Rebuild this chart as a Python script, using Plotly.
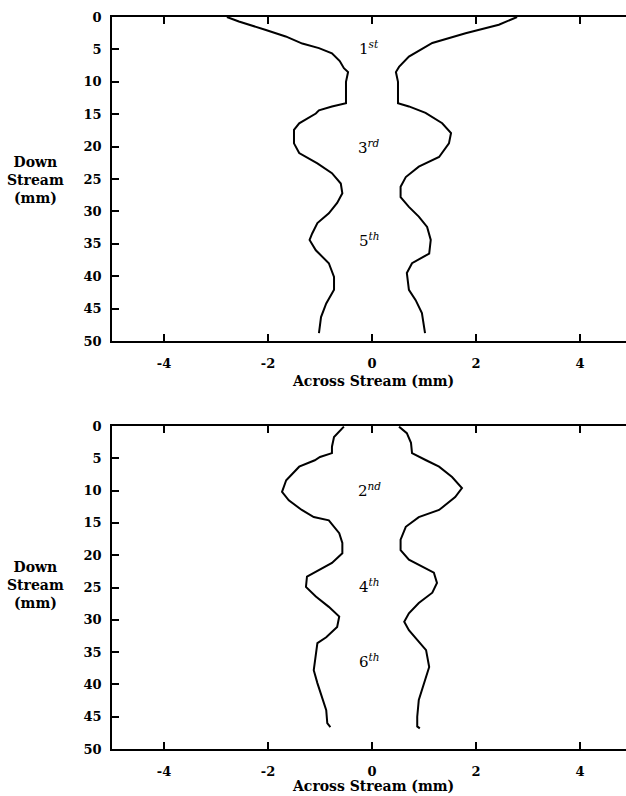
import plotly.graph_objects as go

# ---- data (mm) ----
top_left_y = [0, 0.7, 2.0, 3.0, 4.1, 4.8, 5.6, 6.8, 7.9, 8.5, 10, 12, 13.3, 13.8, 14.4, 14.9, 16.4, 17.4,
              19.5, 21.0, 22.6, 24.1, 25.7, 27.2, 28.7, 30.3, 31.8, 33.4, 34.4, 36.0, 38.0, 40.1, 42.1,
              44.2, 46.3, 48.8]
top_left_x = [-2.79, -2.56, -2.04, -1.66, -1.34, -1.02, -0.77, -0.62, -0.54, -0.46, -0.5, -0.5, -0.5,
              -0.77, -1.02, -1.08, -1.4, -1.5, -1.5, -1.4, -1.05, -0.77, -0.6, -0.57, -0.67, -0.83,
              -1.05, -1.15, -1.2, -1.08, -0.83, -0.73, -0.73, -0.88, -0.98, -1.02]

top_right_y = [0, 1.2, 2.5, 4.0, 6.1, 7.7, 8.5, 10, 12, 13.3, 13.8, 14.8, 16.4, 17.9, 19.5, 21.6, 23.1,
               24.7, 26.2, 27.8, 29.3, 30.8, 32.4, 34.4, 36.5, 38.0, 39.5, 42.1, 43.7, 45.7, 48.8]
top_right_x = [2.79, 2.44, 1.8, 1.16, 0.71, 0.52, 0.46, 0.5, 0.5, 0.5, 0.71, 1.03, 1.35, 1.52, 1.48,
               1.29, 0.9, 0.65, 0.55, 0.55, 0.71, 0.9, 1.06, 1.13, 1.1, 0.77, 0.67, 0.71, 0.84, 0.96, 1.02]

bot_left_y = [0.1, 1.7, 3.2, 4.2, 4.8, 5.3, 6.3, 8.4, 10.2, 11.5, 13.0, 14.1, 14.6, 16.6, 18.1, 19.7,
              21.2, 22.3, 23.3, 24.9, 26.4, 28.0, 29.5, 31.1, 32.7, 33.6, 35.8, 37.8, 39.8, 41.9, 44.0,
              46.0, 46.6]
bot_left_x = [-0.54, -0.73, -0.77, -0.77, -1.0, -1.1, -1.4, -1.65, -1.73, -1.6, -1.35, -1.12, -0.83,
              -0.63, -0.57, -0.57, -0.77, -1.02, -1.25, -1.27, -1.08, -0.83, -0.63, -0.67, -0.88,
              -1.05, -1.08, -1.12, -1.05, -0.96, -0.88, -0.86, -0.80]

bot_right_y = [0.1, 1.1, 2.6, 4.2, 5.3, 6.3, 7.9, 9.6, 11.0, 13.0, 14.1, 15.6, 17.6, 19.2, 20.7, 21.8,
               22.7, 24.3, 25.8, 27.4, 29.0, 30.3, 31.6, 33.1, 34.7, 37.3, 39.8, 42.4, 45.0, 46.5, 46.8]
bot_right_x = [0.52, 0.67, 0.75, 0.77, 1.04, 1.29, 1.54, 1.73, 1.6, 1.29, 0.9, 0.65, 0.55, 0.55, 0.71,
               0.96, 1.19, 1.25, 1.16, 0.9, 0.71, 0.62, 0.71, 0.87, 1.04, 1.1, 1.0, 0.9, 0.87, 0.87, 0.92]

top_labels = ["1<sup><i>st</i></sup>", "3<sup><i>rd</i></sup>", "5<sup><i>th</i></sup>"]
top_label_y = [4.8, 20.0, 34.4]
bot_labels = ["2<sup><i>nd</i></sup>", "4<sup><i>th</i></sup>", "6<sup><i>th</i></sup>"]
bot_label_y = [9.9, 24.8, 36.3]
label_x = -0.05

x_tick_vals = [-4, -2, 0, 2, 4]
x_tick_text = ["-4", "-2", "0", "2", "4"]
y_tick_vals = [0, 5, 10, 15, 20, 25, 30, 35, 40, 45, 50]
y_tick_text = [str(v) for v in y_tick_vals]

FONT = "DejaVu Serif"
line = dict(color="black", width=2)

fig = go.Figure()
for xs, ys, ax in [(top_left_x, top_left_y, "1"), (top_right_x, top_right_y, "1"),
                   (bot_left_x, bot_left_y, "2"), (bot_right_x, bot_right_y, "2")]:
    fig.add_trace(go.Scatter(x=xs, y=ys, mode="lines", line=line, showlegend=False,
                             xaxis="x" if ax == "1" else "x2", yaxis="y" if ax == "1" else "y2"))

tickfont = dict(family=FONT, size=13, color="black", weight="bold")
xcommon = dict(range=[-5, 4.885], tickvals=x_tick_vals, ticktext=x_tick_text, ticks="inside",
               ticklen=7, tickwidth=1.5, tickcolor="black", showline=True, linecolor="black",
               linewidth=1.5, mirror="ticks", showgrid=False, zeroline=False, tickfont=tickfont,
               ticklabelstandoff=10)
ycommon = dict(range=[50, 0], tickvals=y_tick_vals, ticktext=y_tick_text, ticks="inside",
               ticklen=7, tickwidth=1.5, tickcolor="black", showline=True, linecolor="black",
               linewidth=1.5, mirror=False, showgrid=False, zeroline=False, tickfont=tickfont,
               ticklabelstandoff=6)

top_dom = [(749 - 341) / 732, 1.0]
bot_dom = [0.0, (749 - 426) / 732]

fig.update_layout(
    width=626, height=796,
    margin=dict(l=112, r=0, t=17, b=47),
    paper_bgcolor="white", plot_bgcolor="white",
    xaxis=dict(domain=[0, 1], anchor="y", **xcommon),
    yaxis=dict(domain=top_dom, anchor="x", **ycommon),
    xaxis2=dict(domain=[0, 1], anchor="y2", **xcommon),
    yaxis2=dict(domain=bot_dom, anchor="x2", **ycommon),
)

annots = []
lab_font = dict(family=FONT, size=15, color="black")
for t, yv in zip(top_labels, top_label_y):
    annots.append(dict(x=label_x, y=yv, xref="x", yref="y", text=t, showarrow=False, font=lab_font))
for t, yv in zip(bot_labels, bot_label_y):
    annots.append(dict(x=label_x, y=yv, xref="x2", yref="y2", text=t, showarrow=False, font=lab_font))

title_font = dict(family=FONT, size=14, color="black", weight="bold")
for py in [381, 786]:
    annots.append(dict(x=0.02, y=(749 - py) / 732, xref="x", yref="paper", text="Across Stream (mm)",
                       showarrow=False, font=title_font, xanchor="center", yanchor="middle"))
for py in [180, 585]:
    annots.append(dict(x=(35 - 112) / 514, y=(749 - py) / 732, xref="paper", yref="paper",
                       text="Down<br>Stream<br>(mm)", showarrow=False, font=title_font,
                       xanchor="center", yanchor="middle", align="center"))
fig.update_layout(annotations=annots)

fig.write_html("out.html")
